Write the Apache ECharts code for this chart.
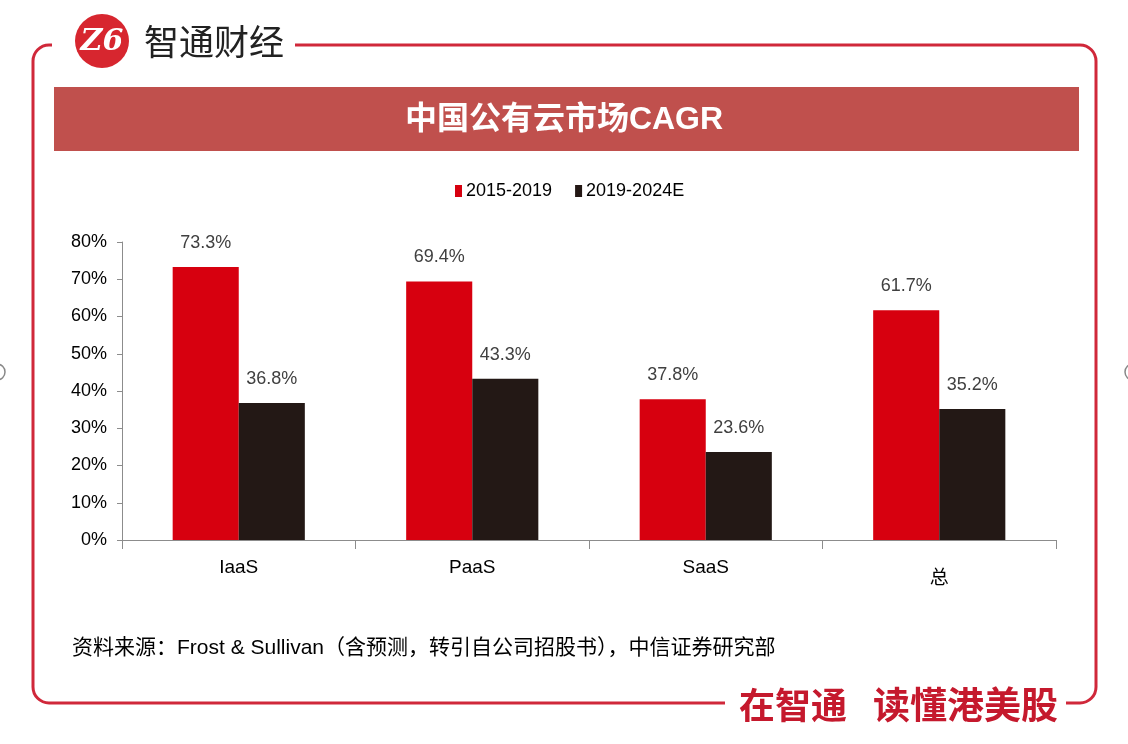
<!DOCTYPE html>
<html>
<head>
<meta charset="utf-8">
<script src="https://cdn.jsdelivr.net/npm/echarts@6/dist/echarts.min.js"></script>
<style>
html,body{margin:0;padding:0;background:#fff;}
#c{width:1128px;height:744px;}
</style>
</head>
<body>
<div id="c"></div>
<script>
const categories = ['IaaS', 'PaaS', 'SaaS', '总'];
const seriesNames = ['2015-2019', '2019-2024E'];
const cagr2015_2019 = [73.3, 69.4, 37.8, 61.7];
const cagr2019_2024E = [36.8, 43.3, 23.6, 35.2];
const yTicks = [0, 10, 20, 30, 40, 50, 60, 70, 80];

const LATIN = "'Liberation Sans',Arial,sans-serif";
const CJK = "'Liberation Sans','Noto Sans CJK SC',sans-serif";
const RED = '#D7000F';
const BLACK = '#231815';
const FRAME = '#D0283A';

const chart = echarts.init(document.getElementById('c'), null, {renderer: 'canvas'});

const labelStyle = {
  show: true,
  position: 'top',
  distance: 15,
  color: '#404040',
  fontFamily: LATIN,
  fontSize: 18,
  formatter: p => p.value.toFixed(1) + '%'
};

chart.setOption({
  backgroundColor: '#ffffff',
  animation: false,
  legend: {
    data: seriesNames,
    left: 450,
    top: 177,
    itemWidth: 7,
    itemHeight: 12,
    itemGap: 23,
    icon: 'rect',
    textStyle: {fontFamily: LATIN, fontSize: 18, color: '#000', padding: [0, 0, 0, -1]}
  },
  grid: {left: 122, right: 72, top: 242, bottom: 204, containLabel: false},
  xAxis: {
    type: 'category',
    data: categories,
    axisLine: {lineStyle: {color: '#8c8c8c', width: 1}},
    axisTick: {show: true, length: 9, lineStyle: {color: '#8c8c8c'}},
    axisLabel: {
      color: '#000', fontFamily: CJK, fontSize: 19, margin: 18,
      formatter: v => v === '总' ? '{z|' + v + '}' : v,
      rich: {z: {fontSize: 19, fontFamily: "'Noto Sans CJK SC',sans-serif", color: '#000', padding: [9, 0, 0, 0]}}
    }
  },
  yAxis: {
    type: 'value',
    min: yTicks[0],
    max: yTicks[yTicks.length - 1],
    interval: 10,
    axisLine: {show: true, lineStyle: {color: '#8c8c8c', width: 1}},
    axisTick: {show: true, length: 5, lineStyle: {color: '#8c8c8c'}},
    splitLine: {show: false},
    axisLabel: {color: '#000', fontFamily: LATIN, fontSize: 18, margin: 15, formatter: '{value}%'}
  },
  series: [
    {
      name: seriesNames[0], type: 'bar', data: cagr2015_2019,
      barWidth: '28.3%', barGap: '0%',
      itemStyle: {color: RED}, label: labelStyle
    },
    {
      name: seriesNames[1], type: 'bar', data: cagr2019_2024E,
      barWidth: '28.3%', barGap: '0%',
      itemStyle: {color: BLACK}, label: labelStyle
    }
  ],
  graphic: [
    {type: 'rect', z: 1, shape: {x: 33, y: 45, width: 1063, height: 658, r: 16},
     style: {fill: 'none', stroke: FRAME, lineWidth: 3}},
    {type: 'rect', z: 2, shape: {x: 52, y: 30, width: 243, height: 30}, style: {fill: '#fff'}},
    {type: 'rect', z: 2, shape: {x: 725, y: 690, width: 341, height: 30}, style: {fill: '#fff'}},
    {type: 'rect', z: 3, shape: {x: 54, y: 87, width: 1025, height: 64}, style: {fill: '#C0504D'}},
    {type: 'text', z: 4, left: 'center', top: 104,
     style: {text: '中国公有云市场CAGR', fill: '#fff', fontSize: 32, fontWeight: 'bold',
             fontFamily: "'Liberation Sans','Noto Sans CJK SC',sans-serif"}},
    {type: 'circle', z: 4, shape: {cx: 102, cy: 41, r: 27}, style: {fill: '#D7262F'}},
    {type: 'text', z: 5, x: 102, y: 42,
     style: {text: 'Z6', fill: '#fff', fontSize: 30, fontWeight: 'bold', fontStyle: 'italic',
             fontFamily: "'DejaVu Serif',serif", align: 'center', verticalAlign: 'middle'}},
    {type: 'text', z: 4, x: 144, y: 42,
     style: {text: '智通财经', fill: '#222', fontSize: 35, fontFamily: "'Noto Sans CJK SC',sans-serif",
             verticalAlign: 'middle'}},
    {type: 'text', z: 4, x: 739, y: 705,
     style: {text: '在智通', fill: '#C5192D', fontSize: 36, fontWeight: 'bold',
             fontFamily: "'Noto Sans CJK SC',sans-serif", verticalAlign: 'middle'}},
    {type: 'text', z: 4, x: 873, y: 705,
     style: {text: '读懂港美股', fill: '#C5192D', fontSize: 37, fontWeight: 'bold',
             fontFamily: "'Noto Sans CJK SC',sans-serif", verticalAlign: 'middle'}},
    {type: 'text', z: 4, x: 72, y: 648,
     style: {text: '资料来源：Frost & Sullivan（含预测，转引自公司招股书），中信证券研究部', fill: '#000',
             fontSize: 21, fontFamily: CJK, verticalAlign: 'middle'}},
    {type: 'circle', z: 4, shape: {cx: -3, cy: 372, r: 8}, style: {fill: 'none', stroke: '#888', lineWidth: 1.5}},
    {type: 'circle', z: 4, shape: {cx: 1133, cy: 372, r: 8}, style: {fill: 'none', stroke: '#888', lineWidth: 1.5}}
  ]
});
</script>
</body>
</html>
